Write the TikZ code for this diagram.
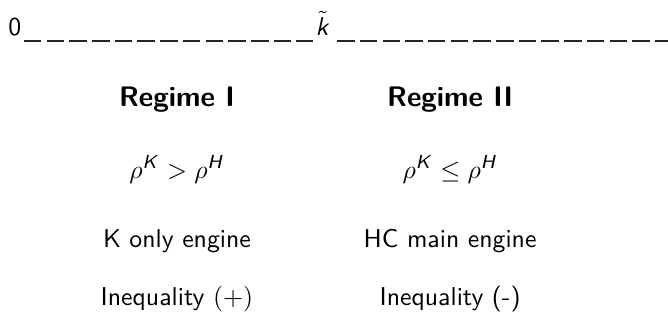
\documentclass[tikz,border=0pt,11pt]{standalone}
\usetikzlibrary{positioning}
\DeclareMathAlphabet{\mathsfsl}{OT1}{cmss}{m}{sl}

\begin{document}
\begin{tikzpicture}[
  txt/.style={font=\sffamily,inner sep=0pt,anchor=base},
  head/.style={txt,font=\sffamily\bfseries\large},
  rule/.style={line width=0.8pt,draw=black!85,dash pattern=on 7.45pt off 2.2pt}
]
\useasboundingbox (-3.4pt,14.9pt) rectangle (280.5pt,-125.4pt);

% threshold line
\node[txt,anchor=base west] (zero) at (0,0) {0};
\node[txt,anchor=base west] (kt) at (130.5pt,0) {$\tilde{\mathsfsl{k}}$};
\coordinate (lineend) at (282pt,-2.4pt);
\draw[rule] ([shift={(0.9pt,-2.4pt)}]zero.base east) -- ([shift={(-0.9pt,-2.4pt)}]kt.base west);
\draw[rule] ([shift={(2.7pt,-2.4pt)}]kt.base east) -- (lineend);

% regimes
\node[head] (reg1) at (71.8pt,-30.2pt) {Regime I};
\node[head,right=116.1pt of reg1.base,anchor=base] (reg2) {Regime II};

\node[txt,below=30.6pt of reg1.base,anchor=base] (cond1) {$\rho^{\mathsfsl{K}} > \rho^{\mathsfsl{H}}$};
\node[txt,below=30.6pt of reg2.base,anchor=base] (cond2) {$\rho^{\mathsfsl{K}} \le \rho^{\mathsfsl{H}}$};

\node[txt,below=29.3pt of cond1.base,anchor=base] (eng1) {K only engine};
\node[txt,below=29.3pt of cond2.base,anchor=base] (eng2) {HC main engine};

\node[txt,below=24.7pt of eng1.base,anchor=base] (ineq1) {Inequality $(+)$};
\node[txt,below=24.7pt of eng2.base,anchor=base] (ineq2) {Inequality (-)};
\end{tikzpicture}
\end{document}
